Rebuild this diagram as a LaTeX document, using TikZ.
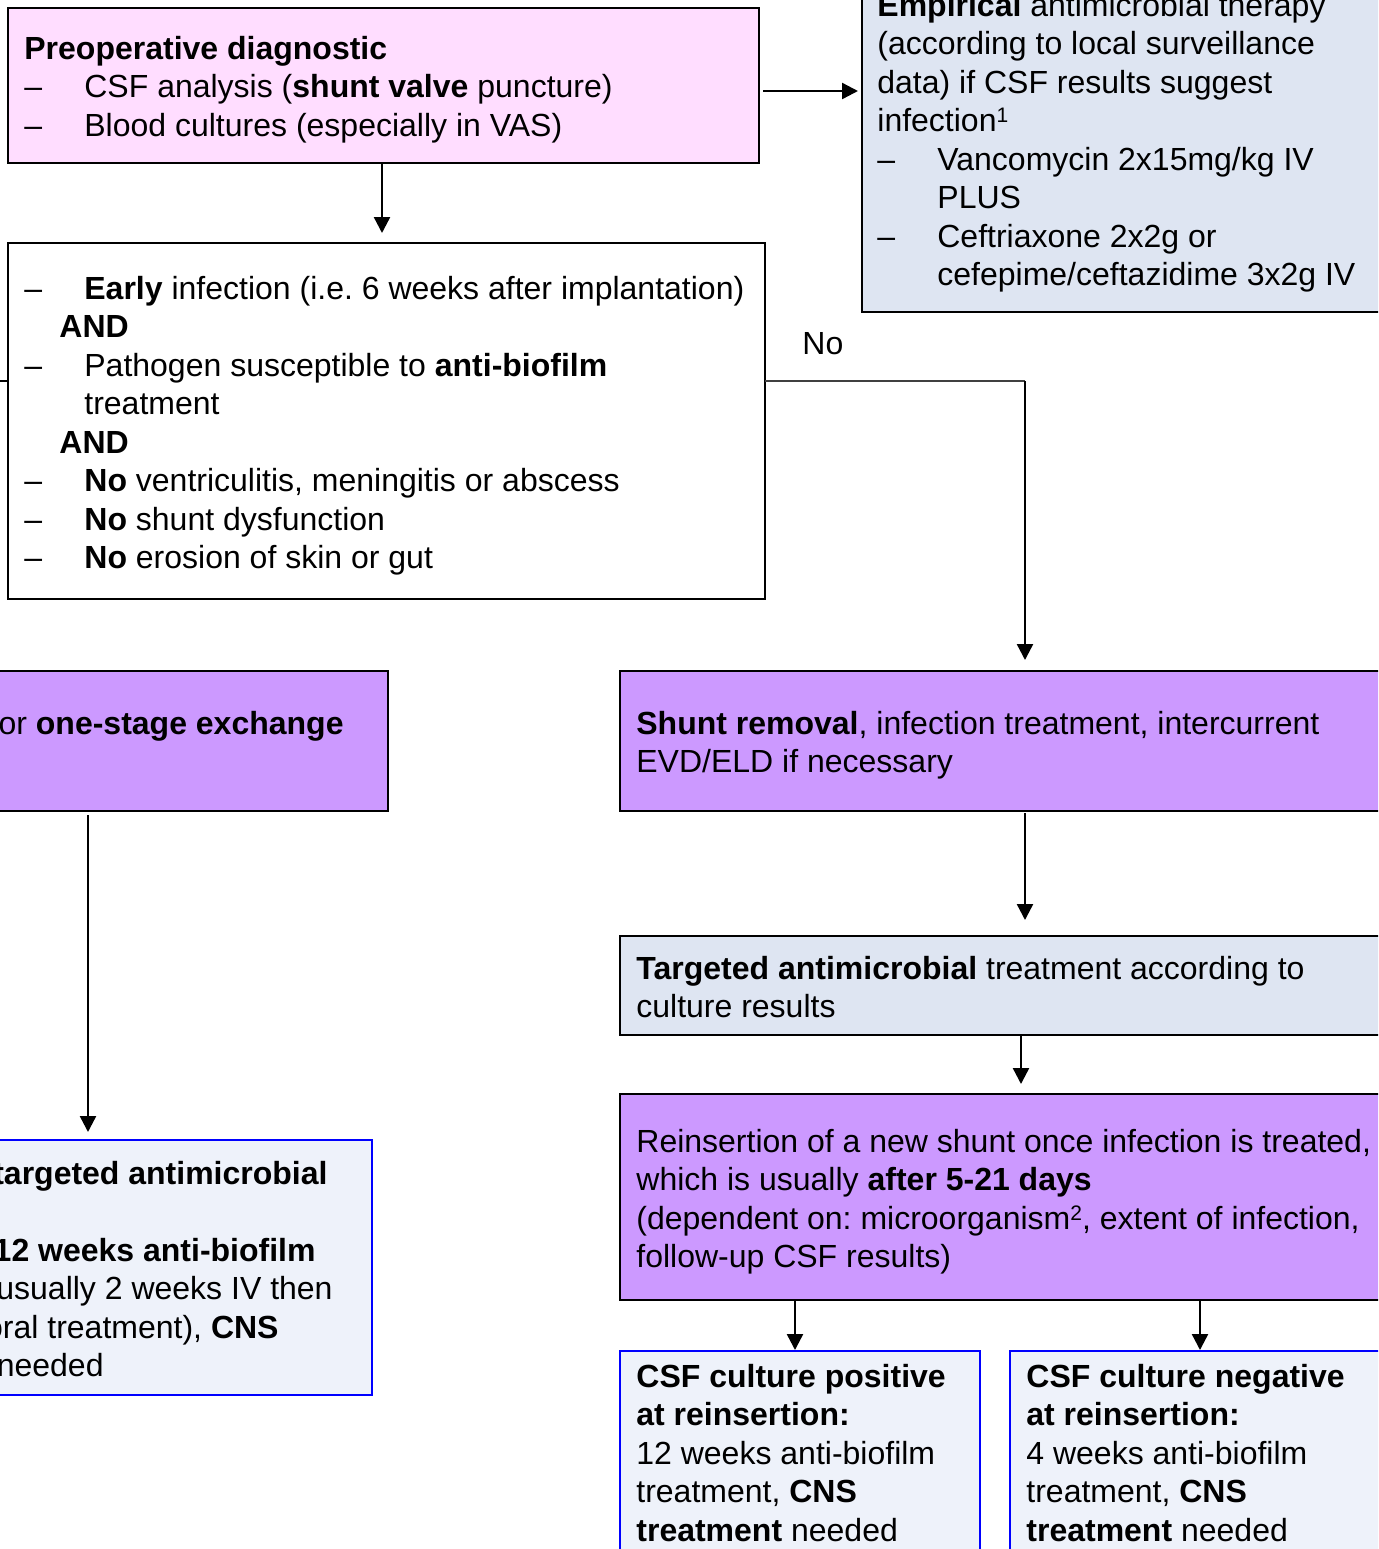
\documentclass[tikz,border=0pt]{standalone}
\usepackage{fontspec}
\setmainfont{Liberation Sans}
\usetikzlibrary{arrows.meta}
\definecolor{pinkfill}{RGB}{255,221,255}
\definecolor{bluefill}{RGB}{222,229,242}
\definecolor{purplefill}{RGB}{204,153,255}
\definecolor{palefill}{RGB}{238,242,250}
\definecolor{blueline}{RGB}{0,0,255}
\frenchspacing
\newcommand\dsh{\makebox[30pt][l]{–}}
\newcommand\tstrut{\rule{0pt}{14pt}}
\newcommand\fs{\fontsize{16}{19.25}\selectfont}
\newcommand\supnum[1]{\raisebox{4.6pt}{\fontsize{10.5}{10.5}\selectfont #1}}
\newcommand\bx[6]{\node[#2, anchor=north west, minimum width={(#5-#3)*0.5pt}, minimum height={(#6-#4)*0.5pt}] (#1) at (#3,#4) {};}
\tikzset{
  box/.style={draw=black, line width=1pt, inner sep=0pt, outer sep=0pt},
  bluebox/.style={draw=blueline, line width=1.2pt, fill=palefill, inner sep=0pt, outer sep=0pt},
  arr/.style={line width=1.2pt, -{Triangle[length=8pt,width=8pt]}},
  txt/.style={anchor=north west, inner sep=0pt, align=left, font=\fs},
  ltxt/.style={inner sep=0pt, font=\fs},
}
\begin{document}
\begin{tikzpicture}[x=0.5pt, y=-0.5pt]
\useasboundingbox (0,0) rectangle (1378,1549);
\fill[white] (0,0) rectangle (1378,1549);
\clip (0,0) rectangle (1378,1549);

% boxes
\bx{preop}{box, fill=pinkfill}{8}{8}{759}{163}
\bx{emp}{box, fill=bluefill}{862}{-40}{1420}{312}
\bx{crit}{box, fill=white}{8}{243}{765}{599}
\bx{onestage}{box, fill=purplefill}{-40}{671}{388}{811}
\bx{shunt}{box, fill=purplefill}{620}{671}{1420}{811}
\bx{targ}{box, fill=bluefill}{620}{936}{1420}{1035}
\bx{reins}{box, fill=purplefill}{620}{1094}{1420}{1300}
\bx{lbot}{bluebox}{-40}{1140}{372}{1395}
\bx{pos}{bluebox}{620}{1351}{980}{1600}
\bx{neg}{bluebox}{1010}{1351}{1420}{1600}

% texts
\node[txt] (tpreop) at (24,31) {\tstrut\textbf{Preoperative diagnostic}\\
\dsh CSF analysis (\textbf{shunt valve} puncture)\\
\dsh Blood cultures (especially in VAS)};

\node[txt] (temp) at (877,-12) {\tstrut\textbf{Empirical} antimicrobial therapy\\
(according to local surveillance\\
data) if CSF results suggest\\
infection\supnum{1}\\
\dsh Vancomycin 2x15mg/kg IV\\
\hspace*{30pt}PLUS\\
\dsh Ceftriaxone 2x2g or\\
\hspace*{30pt}cefepime/ceftazidime 3x2g IV};

\node[txt] (tcrit) at (24,271) {\tstrut\dsh\textbf{Early} infection (i.e. 6 weeks after implantation)\\
\hspace*{17.5pt}\textbf{AND}\\
\dsh Pathogen susceptible to \textbf{anti-biofilm}\\
\hspace*{30pt}treatment\\
\hspace*{17.5pt}\textbf{AND}\\
\dsh\textbf{No} ventriculitis, meningitis or abscess\\
\dsh\textbf{No} shunt dysfunction\\
\dsh\textbf{No} erosion of skin or gut};

\node[ltxt, anchor=base west] (tno) at (802,354) {No};

\node[ltxt, anchor=base east] (tone) at (344,734) {or \textbf{one-stage exchange}};

\node[txt] (tshunt) at (636,706) {\tstrut\textbf{Shunt removal}, infection treatment, intercurrent\\
EVD/ELD if necessary};

\node[txt] (ttarg) at (636,951) {\tstrut\textbf{Targeted antimicrobial} treatment according to\\
culture results};

\node[txt] (treins) at (636,1124) {\tstrut Reinsertion of a new shunt once infection is treated,\\
which is usually \textbf{after 5-21 days}\\
(dependent on: microorganism\supnum{2}, extent of infection,\\
follow-up CSF results)};

\node[ltxt, anchor=base east] (tl1) at (328,1184) {\textbf{targeted antimicrobial}};
\node[ltxt, anchor=base east] (tl2) at (316,1261) {\textbf{12 weeks anti-biofilm}};
\node[ltxt, anchor=base east] (tl3) at (333,1299.5) {usually 2 weeks IV then};
\node[ltxt, anchor=base east] (tl4) at (279,1338) {oral treatment), \textbf{CNS}};
\node[ltxt, anchor=base east] (tl5) at (104,1376.5) {needed};

\node[txt] (tpos) at (636,1359) {\tstrut\textbf{CSF culture positive}\\
\textbf{at reinsertion:}\\
12 weeks anti-biofilm\\
treatment, \textbf{CNS}\\
\textbf{treatment} needed};

\node[txt] (tneg) at (1026,1359) {\tstrut\textbf{CSF culture negative}\\
\textbf{at reinsertion:}\\
4 weeks anti-biofilm\\
treatment, \textbf{CNS}\\
\textbf{treatment} needed};

% connectors
\coordinate (noturn) at (1025,381);
\coordinate (stubend) at (-5,381);
\draw[arr, shorten >=5pt] (preop.south -| 382,0) -- (crit.north -| 382,0);
\draw[arr, shorten <=2pt, shorten >=2pt] (preop.east |- 0,91) -- (emp.west |- 0,91);
\draw[line width=0.6pt, black!75] (crit.east |- noturn) -- (noturn);
\draw[arr, shorten >=5.5pt] (noturn) -- (shunt.north -| noturn);
\draw[line width=1pt] (crit.west |- stubend) -- (stubend);
\draw[arr, shorten <=2pt, shorten >=4pt] (onestage.south -| 88,0) -- (lbot.north -| 88,0);
\draw[arr, shorten <=1pt, shorten >=8pt] (shunt.south -| 1025,0) -- (targ.north -| 1025,0);
\draw[arr, shorten <=0.5pt, shorten >=5pt] (targ.south -| 1021,0) -- (reins.north -| 1021,0);
\draw[arr, shorten >=0.5pt] (reins.south -| 795,0) -- (pos.north -| 795,0);
\draw[arr, shorten >=0.5pt] (reins.south -| 1200,0) -- (neg.north -| 1200,0);
\end{tikzpicture}
\end{document}
